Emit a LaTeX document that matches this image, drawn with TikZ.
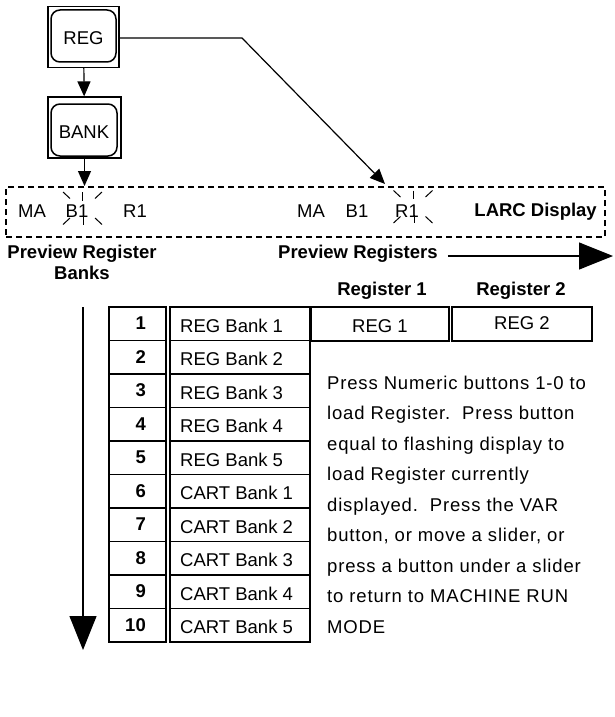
\documentclass[tikz,border=0pt]{standalone}
\usepackage{fontspec}
\setmainfont{Liberation Sans}
\usetikzlibrary{arrows.meta}
\begin{document}
\begin{tikzpicture}[x=1pt,y=-1pt]
\tikzset{
  txt/.style={font=\fontsize{18.5}{22}\selectfont, inner sep=0pt, anchor=base},
  btxt/.style={font=\fontsize{18.5}{22}\selectfont\bfseries, inner sep=0pt, anchor=base},
  notetxt/.style={font=\fontsize{18.5}{22}\selectfont\addfontfeature{LetterSpace=4.5}, inner sep=0pt, anchor=base west},
  keyframe/.style={draw, line width=1.2pt, minimum width=71pt, minimum height=61pt, inner sep=0pt},
  keycap/.style={draw, line width=1.5pt, rounded corners=9pt, inner sep=0pt,
    minimum width=65pt, minimum height=52pt, font=\fontsize{18.5}{22}\selectfont},
  link/.style={line width=1.2pt, -{Triangle[length=15pt,width=13pt]}},
  bigarrow/.style={line width=1.2pt, -{Triangle[length=34pt,width=27pt]}},
  flash/.style={line width=1pt},
  numcell/.style={draw, line width=1.8pt, minimum width=57pt, minimum height=33.5pt, inner sep=0pt, anchor=north west},
  namecell/.style={draw, line width=1.8pt, minimum width=140pt, minimum height=33.5pt, inner sep=0pt, anchor=north west},
  regcell/.style={draw, line width=1.3pt, minimum width=138pt, minimum height=34pt, inner sep=0pt},
  lcd/.style={draw, dashed, line width=2pt, dash pattern=on 6pt off 4pt, inner sep=0pt},
}
\useasboundingbox (0,0) rectangle (614,717);

% REG and BANK keys
\node[keyframe] (regframe) at (83.5,37) {};
\node[keycap] (reg) at (83.5,36) {};
\node[txt] (regtxt) at (83.5,45) {REG};
\node[keyframe, minimum width=73pt] (bankframe) at (84.5,127.5) {};
\node[keycap, minimum width=66pt] (bank) at (84,130) {};
\node[txt] (banktxt) at (84,138) {BANK};

% LARC display
\node[lcd, minimum width=599pt, minimum height=50pt] (display) at (305.5,212) {};
\node[txt] (ma1) at (32,217) {MA};
\node[txt] (b1) at (77,217) {B1};
\node[txt] (r1) at (135,217) {R1};
\node[txt] (ma2) at (311,217) {MA};
\node[txt] (b2) at (357,217) {B1};
\node[txt] (r2) at (407,217) {R1};
\node[btxt, anchor=base east] (larc) at (597,216) {LARC Display};

% flashing marks
\coordinate (fb) at (82.5,208.5);
\coordinate (fr) at (413,207);
\foreach \c in {fb,fr} {
  \draw[flash] ([shift={(-19.5,-16.5)}]\c) -- ([shift={(-12.5,-10)}]\c);
  \draw[flash] ([shift={(0,-16.5)}]\c) -- ([shift={(0,-8)}]\c);
  \draw[flash] ([shift={(19.5,-16.5)}]\c) -- ([shift={(12.5,-10)}]\c);
  \draw[flash] ([shift={(-19.5,16)}]\c) -- ([shift={(-12.5,9.5)}]\c);
  \draw[flash] ([shift={(1,8)}]\c) -- ([shift={(1,16)}]\c);
  \draw[flash] ([shift={(19.5,16)}]\c) -- ([shift={(12.5,9.5)}]\c);
}

% connectors
\coordinate (bend) at (242,38);
\coordinate (r1tip) at (385,184);
\draw[link] (regframe) -- (bankframe);
\draw[link] (bankframe.south) -- (bankframe.south |- display.north);
\draw[link] (regframe.east |- bend) -- (bend) -- (r1tip);

% captions
\node[btxt] (pvbanks) at (82,258) {Preview Register};
\node[btxt] (pvbanks2) at (82,279) {Banks};
\node[btxt, anchor=base west] (pvregs) at (278,258) {Preview Registers};
\coordinate (harrowend) at (613,256);
\draw[bigarrow] ([xshift=10pt]pvregs.east |- harrowend) -- (harrowend);

\node[btxt] (reghead1) at (382,295) {Register 1};
\node[btxt] (reghead2) at (521,295) {Register 2};
\node[regcell] (reg1) at (380,324) {};
\node[regcell, minimum width=140pt] (reg2) at (522,324) {};
\node[txt] (reg1txt) at (380,332) {REG 1};
\node[txt] (reg2txt) at (522,329) {REG 2};

% bank table
\coordinate (vtop) at (83,307);
\coordinate (vend) at (83,650);
\draw[bigarrow] (vtop) -- (vend);
\foreach \i/\name [count=\k from 0] in {1/REG Bank 1,2/REG Bank 2,3/REG Bank 3,4/REG Bank 4,5/REG Bank 5,
    6/CART Bank 1,7/CART Bank 2,8/CART Bank 3,9/CART Bank 4,10/CART Bank 5} {
  \node[numcell] (num\i) at (108,306+33.5*\k) {};
  \node[namecell] (name\i) at (169,306+33.5*\k) {};
  \node[btxt, anchor=base east] (numtxt\i) at (146,306+33.5*\k+23.5) {\i};
  \node[txt, anchor=base west] (nametxt\i) at (180,306+33.5*\k+26) {\name};
}

% instructions
\foreach \t [count=\k from 0] in {Press Numeric buttons 1-0 to,
    load Register.\ \ Press button,
    equal to flashing display to,
    load Register currently,
    displayed.\ \ Press the VAR,
    {button, or move a slider, or},
    press a button under a slider,
    to return to MACHINE RUN,
    MODE} {
  \node[notetxt] (note\k) at (327,389+30.5*\k) {\t};
}
\end{tikzpicture}
\end{document}
